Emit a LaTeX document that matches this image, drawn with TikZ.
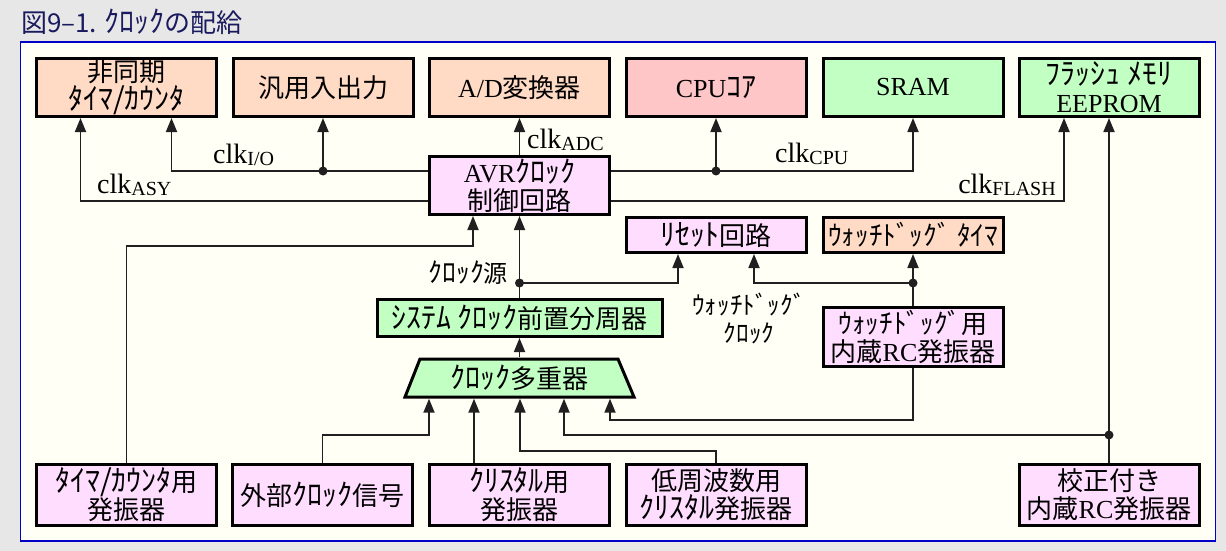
\documentclass[tikz,border=0pt]{standalone}
\usepackage{fontspec}
\setmainfont{Liberation Serif}
\newfontfamily\jpf{Noto Sans CJK JP}
\newfontfamily\hkf{Noto Sans CJK JP}[Scale=1.15]
\newfontfamily\hnf{Noto Sans CJK JP}[Scale=1.05]
\newcommand\J[1]{{\jpf #1}}
\newcommand\HK[1]{{\hkf #1}}
\newcommand\HN[1]{{\hnf #1}}
\newcommand\clk[1]{clk\raisebox{-2pt}{\fontsize{20}{20}\selectfont #1}}
\usetikzlibrary{arrows.meta}
\definecolor{bgc}{HTML}{E7E7E7}
\definecolor{panelc}{HTML}{0000C8}
\definecolor{panelf}{HTML}{FFFFF6}
\definecolor{titlec}{HTML}{1A1A5E}
\definecolor{peach}{HTML}{FFDAC4}
\definecolor{pinkc}{HTML}{FFC6C8}
\definecolor{greenc}{HTML}{C2FFC2}
\definecolor{magc}{HTML}{FFDDFF}
\definecolor{linec}{HTML}{202020}
\begin{document}
\begin{tikzpicture}[x=1pt,y=-1pt,
  box/.style={draw=black, line width=3pt, inner sep=0pt, align=center,
    font=\fontsize{26}{28}\selectfont, minimum width=180pt, minimum height=58pt},
  conn/.style={draw=linec, line width=1.8pt},
  arr/.style={conn, -{Triangle[length=14pt,width=11pt]}},
  lab/.style={inner sep=0pt, font=\fontsize{28}{28}\selectfont},
  dot/.style={fill=linec}]
\fill[bgc] (0,0) rectangle (1226,551);
\useasboundingbox (0,0) rectangle (1226,551);
\draw[panelc, line width=1.5pt, fill=panelf] (20.5,42) rectangle (1215.5,541);
\node[anchor=base west, inner sep=0pt, text=titlec, font=\fontsize{26}{26}\selectfont] (title) at (21,33) {\J{図9–1. }\HK{ｸﾛｯｸ}\J{の配給}};

% top row
\node[box, fill=peach] (t1) at (126.5,87.5) {\J{非同期}\\\HK{ﾀｲﾏ/ｶｳﾝﾀ}};
\node[box, fill=peach] (t2) at (323,87.5) {\J{汎用入出力}};
\node[box, fill=peach] (t3) at (519.5,87.5) {A/D\J{変換器}};
\node[box, fill=pinkc] (t4) at (716,87.5) {CPU\HK{ｺｱ}};
\node[box, fill=greenc] (t5) at (913,87.5) {SRAM};
\node[box, fill=greenc] (t6) at (1109,87.5) {\HK{ﾌﾗｯｼｭ ﾒﾓﾘ}\\EEPROM};

% middle
\node[box, fill=magc] (avr) at (519.5,185.5) {AVR\HK{ｸﾛｯｸ}\\\J{制御回路}};
\node[box, fill=magc, minimum height=35pt] (rst) at (716,235) {\HK{ﾘｾｯﾄ}\J{回路}};
\node[box, fill=peach, minimum height=35pt] (wdt) at (913,235) {\HN{ｳｫｯﾁﾄﾞｯｸﾞ ﾀｲﾏ}};
\node[box, fill=greenc, minimum width=285pt, minimum height=37pt] (pre) at (519.5,318) {\HK{ｼｽﾃﾑ ｸﾛｯｸ}\J{前置分周器}};
\node[box, fill=magc, minimum height=59pt] (wdo) at (913,337) {\HN{ｳｫｯﾁﾄﾞｯｸﾞ}\J{用}\\\J{内蔵}RC\J{発振器}};
\draw[line width=3pt, fill=greenc, line join=miter] (420,359) -- (618,359) -- (634,397) -- (405,397) -- cycle;
\node[inner sep=0pt, minimum width=229pt, minimum height=41pt, font=\fontsize{26}{28}\selectfont] (mux) at (519.5,378) {\HK{ｸﾛｯｸ}\J{多重器}};

% bottom row
\node[box, fill=magc, minimum height=61pt] (b1) at (126.5,495) {\HK{ﾀｲﾏ/ｶｳﾝﾀ}\J{用}\\\J{発振器}};
\node[box, fill=magc, minimum height=61pt] (b2) at (322.5,495) {\J{外部}\HK{ｸﾛｯｸ}\J{信号}};
\node[box, fill=magc, minimum height=61pt] (b3) at (519.5,495) {\HK{ｸﾘｽﾀﾙ}\J{用}\\\J{発振器}};
\node[box, fill=magc, minimum height=61pt] (b4) at (716,495) {\J{低周波数用}\\\HK{ｸﾘｽﾀﾙ}\J{発振器}};
\node[box, fill=magc, minimum height=61pt] (b5) at (1109,495) {\J{校正付き}\\\J{内蔵}RC\J{発振器}};

% helper coordinates
\coordinate (yIO) at (0,171);
\coordinate (yAS) at (0,201);
\coordinate (y283) at (0,283);
\coordinate (y435) at (0,435);
\coordinate (kTA) at (473,246);
\coordinate (m1) at (429,435);
\coordinate (m2) at (474,0);
\coordinate (m3) at (520,451);
\coordinate (m4) at (564,435);
\coordinate (m5) at (610,420);

% clock outputs
\draw[arr] (avr.west |- yAS) -| ([xshift=-46pt]t1.south);
\draw[arr] (avr.west |- yIO) -| ([xshift=45pt]t1.south);
\coordinate (jIO) at (t2.south |- yIO);
\draw[arr] (jIO) -- (t2.south);
\fill[dot] (jIO) circle (4.5pt);
\draw[arr] (avr.north) -- (t3.south);
\draw[arr] (avr.east |- yIO) -| (t5.south);
\coordinate (jCPU) at (t4.south |- yIO);
\draw[arr] (jCPU) -- (t4.south);
\fill[dot] (jCPU) circle (4.5pt);
\draw[arr] (avr.east |- yAS) -| ([xshift=-45pt]t6.south);
\draw[arr] (b5.north) -- (t6.south);
\coordinate (jCal) at (b5.north |- y435);
\fill[dot] (jCal) circle (4.5pt);

% timer oscillator to AVR
\draw[arr] (b1.north) |- (kTA) -- (kTA |- avr.south);

% clock source
\draw[arr] (pre.north) -- (avr.south);
\coordinate (jSrc) at (pre.north |- y283);
\draw[arr] (jSrc) -| ([xshift=-38pt]rst.south);
\fill[dot] (jSrc) circle (4.5pt);

% watchdog clock
\draw[arr] (wdo.north) -- (wdt.south);
\coordinate (jWD) at (wdo.north |- y283);
\draw[arr] (jWD) -| ([xshift=38pt]rst.south);
\fill[dot] (jWD) circle (4.5pt);

% mux
\draw[arr] (mux.north) -- (pre.south);
\draw[arr] (wdo.south) |- (m5) -- (m5 |- mux.south);
\draw[arr] (b2.north) |- (m1) -- (m1 |- mux.south);
\draw[arr] (b3.north -| m2) -- (mux.south -| m2);
\draw[arr] (b4.north) |- (m3) -- (m3 |- mux.south);
\draw[arr] (jCal) -- (m4) -- (m4 |- mux.south);

% labels
\node[lab, anchor=base west] (lASY) at (97,193) {\clk{ASY}};
\node[lab, anchor=base west] (lIO) at (213,163) {\clk{I/O}};
\node[lab, anchor=base west] (lADC) at (527,148) {\clk{ADC}};
\node[lab, anchor=base west] (lCPU) at (775,162) {\clk{CPU}};
\node[lab, anchor=base east] (lFL) at (1056,193) {\clk{FLASH}};
\node[inner sep=0pt, anchor=base east, font=\fontsize{24}{24}\selectfont] (lSrc) at (508,282) {\HK{ｸﾛｯｸ}\J{源}};
\node[inner sep=0pt, align=center, font=\fontsize{24}{28}\selectfont] (lWD) at (749,319) {\HN{ｳｫｯﾁﾄﾞｯｸﾞ}\\\HN{ｸﾛｯｸ}};
\end{tikzpicture}
\end{document}
